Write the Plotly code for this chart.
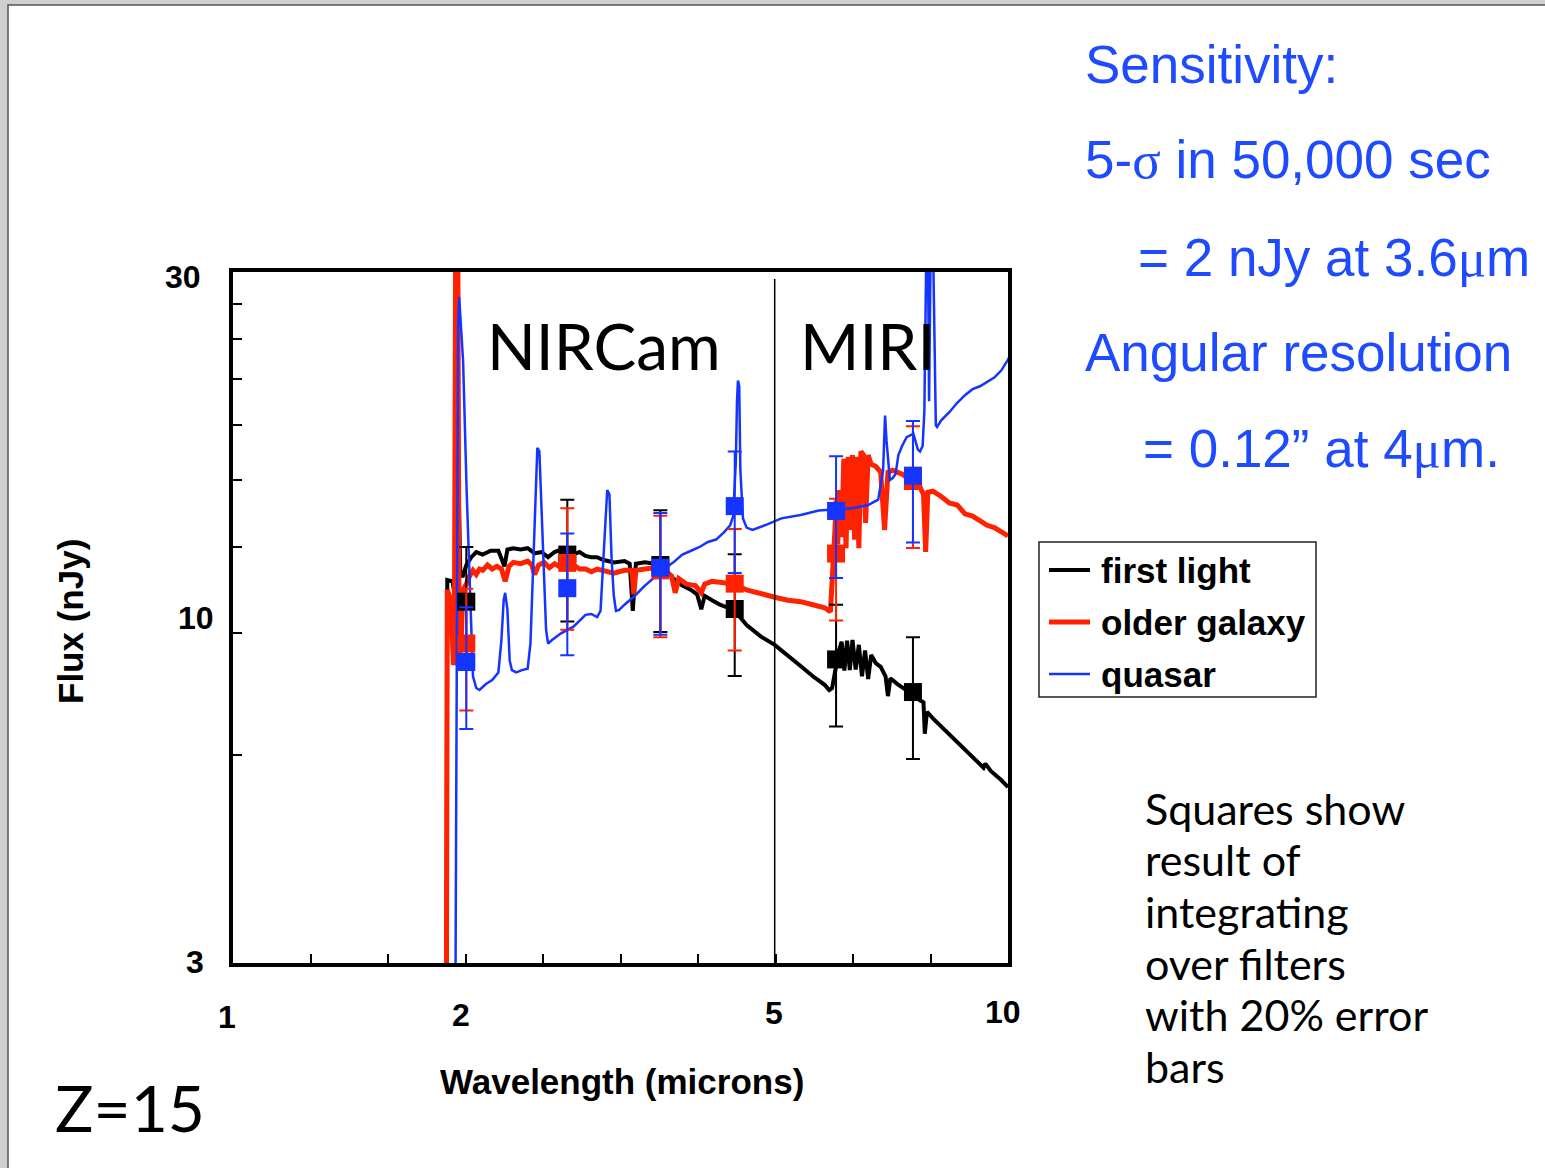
import plotly.graph_objects as go

# ---------------- spectra: wavelength (microns) and flux (nJy) ----------------
first_light_wl = [1.885, 1.89, 1.92, 1.935, 1.945, 1.955, 1.965, 1.98, 2.0, 2.03,
                  2.06, 2.1, 2.15, 2.2, 2.24, 2.26, 2.3, 2.35, 2.4, 2.45,
                  2.5, 2.55, 2.6, 2.65, 2.7, 2.75, 2.8, 2.85, 2.9, 2.95,
                  3.0, 3.1, 3.2, 3.25, 3.28, 3.31, 3.4, 3.5, 3.6, 3.7,
                  3.8, 3.9, 3.97, 4.02, 4.06, 4.15, 4.25, 4.35, 4.44, 4.6,
                  4.8, 5.0, 5.2, 5.4, 5.6, 5.8, 5.88, 5.93, 5.98, 6.05,
                  6.1, 6.15, 6.2, 6.25, 6.3, 6.36, 6.42, 6.48, 6.54, 6.6,
                  6.66, 6.75, 6.85, 6.95, 7.0, 7.05, 7.2, 7.4, 7.55, 7.7,
                  7.78, 7.81, 7.86, 8.0, 8.2, 8.4, 8.6, 8.8, 9.0, 9.2,
                  9.3, 9.35, 9.5, 9.8, 10.0]
first_light_flux = [2.5, 10.75, 10.7, 10.1, 20.0, 14.0, 10.9, 10.9, 11.3, 11.6,
                    11.8, 11.7, 11.85, 11.85, 11.25, 11.9, 11.95, 11.9, 11.95, 11.75,
                    11.8, 11.6, 11.8, 11.9, 11.85, 11.7, 11.8, 11.65, 11.6, 11.6,
                    11.5, 11.4, 11.45, 11.35, 9.7, 11.35, 11.4, 11.35, 11.2, 10.8,
                    10.55, 10.4, 10.25, 9.75, 10.2, 10.05, 9.9, 9.8, 9.7, 9.25,
                    8.9, 8.66, 8.37, 8.07, 7.8, 7.58, 7.45, 7.5, 7.9, 8.5,
                    8.75, 7.95, 8.78, 7.96, 8.8, 7.98, 8.66, 7.8, 8.5, 7.73,
                    8.37, 8.15, 8.05, 7.8, 7.3, 7.75, 7.6, 7.45, 7.33, 7.2,
                    7.15, 6.44, 6.93, 6.78, 6.6, 6.43, 6.27, 6.1, 5.96, 5.83,
                    5.75, 5.83, 5.69, 5.52, 5.39]

older_wl = [1.885, 1.89, 1.91, 1.925, 1.93, 1.938, 1.95, 1.958, 1.97, 1.98,
            2.0, 2.02, 2.04, 2.06, 2.08, 2.1, 2.13, 2.16, 2.19, 2.22,
            2.245, 2.27, 2.3, 2.35, 2.4, 2.43, 2.45, 2.48, 2.52, 2.56,
            2.6, 2.65, 2.7, 2.75, 2.8, 2.85, 2.9, 2.95, 3.0, 3.1,
            3.2, 3.27, 3.29, 3.31, 3.4, 3.5, 3.6, 3.68, 3.72, 3.76,
            3.85, 3.95, 4.02, 4.06, 4.15, 4.25, 4.35, 4.44, 4.6, 4.8,
            5.0, 5.2, 5.4, 5.6, 5.8, 5.9, 5.95, 5.98, 6.0, 6.03,
            6.06, 6.1, 6.14, 6.18, 6.22, 6.26, 6.3, 6.34, 6.38, 6.42,
            6.46, 6.51, 6.55, 6.6, 6.66, 6.75, 6.85, 6.93, 7.0, 7.1,
            7.3, 7.5, 7.7, 7.78, 7.83, 7.88, 8.0, 8.2, 8.4, 8.6,
            8.8, 9.0, 9.2, 9.4, 9.6, 9.8, 10.0]
older_flux = [2.5, 10.4, 10.06, 8.1, 8.23, 34.0, 34.0, 8.2, 8.8, 10.4,
              10.6, 10.9, 11.1, 10.95, 11.15, 11.1, 11.3, 11.15, 11.25, 11.15,
              10.7, 11.25, 11.4, 11.35, 11.45, 11.3, 10.95, 11.3, 11.4, 11.2,
              11.35, 11.2, 11.15, 11.3, 11.15, 11.15, 11.05, 11.15, 11.1, 11.0,
              11.1, 11.1, 10.25, 11.1, 11.15, 11.2, 11.1, 10.9, 10.3, 10.8,
              10.6, 10.55, 10.3, 10.6, 10.7, 10.65, 10.6, 10.6, 10.4, 10.25,
              10.15, 10.05, 10.0, 9.9, 9.8, 9.67, 11.1, 12.7, 14.0, 12.1,
              14.5, 12.4, 16.1, 11.95, 16.2, 12.7, 16.3, 12.3, 16.2, 11.95,
              16.5, 16.3, 13.0, 16.3, 15.8, 15.7, 15.4, 12.7, 15.4, 15.5,
              15.3, 15.0, 14.65, 14.3, 11.8, 14.4, 14.45, 14.2, 13.9, 13.8,
              13.4, 13.3, 13.1, 12.9, 12.8, 12.65, 12.45]

quasar_wl = [1.936, 1.944, 1.952, 1.958, 1.965, 1.972, 1.981, 2.002, 2.022, 2.04,
             2.06, 2.08, 2.12, 2.16, 2.2, 2.22, 2.235, 2.245, 2.26, 2.275,
             2.29, 2.32, 2.36, 2.4, 2.42, 2.44, 2.455, 2.47, 2.485, 2.5,
             2.515, 2.535, 2.55, 2.58, 2.65, 2.75, 2.85, 2.9, 2.95, 2.98,
             3.0, 3.02, 3.04, 3.06, 3.08, 3.1, 3.12, 3.15, 3.2, 3.3,
             3.4, 3.5, 3.6, 3.7, 3.8, 3.9, 4.0, 4.1, 4.2, 4.3,
             4.38, 4.42, 4.455, 4.47, 4.483, 4.5, 4.515, 4.55, 4.6, 4.68,
             4.78, 4.9, 5.1, 5.4, 5.7, 6.0, 6.3, 6.6, 6.8, 6.9,
             6.94, 6.97, 7.0, 7.04, 7.1, 7.16, 7.22, 7.3, 7.4, 7.55,
             7.65, 7.7, 7.76, 7.8, 7.85, 7.88, 7.91, 7.95, 8.0, 8.07,
             8.1, 8.2, 8.4, 8.6, 8.8, 9.0, 9.2, 9.4, 9.6, 9.8,
             10.0, 10.2]
quasar_flux = [2.5, 7.2, 24.7, 27.6, 26.0, 24.0, 22.3, 14.5, 10.3, 7.8,
               7.5, 7.45, 7.6, 7.7, 7.9, 8.8, 10.06, 10.3, 9.73, 8.23,
               7.96, 7.9, 7.96, 8.0, 8.7, 11.5, 14.5, 16.7, 16.5, 14.0,
               11.5, 9.1, 8.7, 8.8, 9.0, 9.2, 9.57, 9.6, 9.5, 9.7,
               11.1, 12.7, 14.5, 14.3, 11.5, 10.2, 9.7, 9.73, 9.9, 10.2,
               10.55, 10.85, 11.15, 11.4, 11.7, 11.85, 12.0, 12.2, 12.3, 12.6,
               12.9, 13.3, 16.0, 19.5, 20.9, 20.5, 15.5, 13.2, 12.8, 12.7,
               12.8, 12.95, 13.2, 13.35, 13.55, 13.6, 13.65, 13.8, 14.05, 15.5,
               18.6, 17.1, 16.0, 15.0, 15.1, 15.3, 16.3, 16.8, 17.3, 17.5,
               16.6, 16.5, 16.8, 18.9, 34.0, 34.0, 19.5, 34.0, 34.0, 18.0,
               17.9, 18.3, 18.8, 19.4, 19.9, 20.3, 20.5, 20.8, 21.1, 21.6,
               22.4, 23.5]

# ---------------- band fluxes integrated over the filters ----------------
filter_wl = [2.0, 2.7, 3.56, 4.44, 6.0, 7.54]
first_light_band = [10.0, 11.7, 11.3, 9.76, 8.25, 7.40]
older_band = [8.7, 11.38, 11.1, 10.62, 11.74, 14.95]
quasar_band = [8.18, 10.46, 11.2, 13.75, 13.53, 15.22]
error_percent = 20

series_names = ["first light", "older galaxy", "quasar"]
x_tick_text = ["1", "2", "5", "10"]
y_tick_text = ["30", "10", "3"]

BLACK = "#000000"
RED = "#FF2200"
BLUE = "#1434FF"
TEXT_BLUE = "#1F4BFF"

W, H = 1545, 1168
L, R, T, B = 233, 1008, 272, 963   # plot-area edges in page pixels


def ax(x):
    """page x pixel -> paper coordinate"""
    return (x - L) / (R - L)


def ay(y):
    """page y pixel -> paper coordinate"""
    return (B - y) / (B - T)


fig = go.Figure()

spectra = [
    (first_light_wl, first_light_flux, BLACK, 4),
    (older_wl, older_flux, RED, 5),
    (quasar_wl, quasar_flux, BLUE, 2.5),
]
for (wl, fl, col, lw), name in zip(spectra, series_names):
    fig.add_trace(go.Scatter(x=wl, y=fl, mode="lines", name=name,
                             line=dict(color=col, width=lw),
                             showlegend=False, hoverinfo="skip"))

bands = [(first_light_band, BLACK), (older_band, RED), (quasar_band, BLUE)]
for (vals, col), name in zip(bands, series_names):
    fig.add_trace(go.Scatter(
        x=filter_wl, y=vals, mode="markers", name=name + " (filters)",
        marker=dict(symbol="square", size=18, color=col, line=dict(width=0)),
        error_y=dict(type="percent", value=error_percent, color=col,
                     thickness=2, width=7),
        showlegend=False))

shapes = [
    # slide page on a grey surround
    dict(type="rect", xref="paper", yref="paper", layer="below",
         x0=ax(8), x1=ax(1560), y0=ay(1180), y1=ay(5),
         line=dict(color="#555555", width=1.5), fillcolor="white"),
    # NIRCam / MIRI divider
    dict(type="line", xref="x", yref="paper", x0=5, x1=5, y0=0, y1=0.99,
         line=dict(color=BLACK, width=1.5)),
    # legend frame
    dict(type="rect", xref="paper", yref="paper",
         x0=ax(1039), x1=ax(1316), y0=ay(697), y1=ay(542),
         line=dict(color="#222222", width=1.5), fillcolor="white"),
]
legend_rows = [(570, BLACK, 4), (622, RED, 5), (674, BLUE, 2.5)]
for yy, col, lw in legend_rows:
    shapes.append(dict(type="line", xref="paper", yref="paper",
                       x0=ax(1049), x1=ax(1090), y0=ay(yy), y1=ay(yy),
                       line=dict(color=col, width=lw)))

annotations = []


def text(s, x, y, size, family, color=BLACK, xanchor="left", bold=False, angle=0):
    if bold:
        s = "<b>" + s + "</b>"
    annotations.append(dict(text=s, x=ax(x), y=ay(y), xref="paper", yref="paper",
                            xanchor=xanchor, yanchor="middle", showarrow=False,
                            textangle=angle,
                            font=dict(size=size, family=family, color=color)))


ARIAL = "Liberation Sans, Arial, sans-serif"
SANS = "Lato, Liberation Sans, sans-serif"

# axis tick labels
for s, (x, y) in zip(y_tick_text, [(203, 277), (216, 618), (206, 962)]):
    text(s, x, y, 32, ARIAL, xanchor="right", bold=True)
for s, (x, y) in zip(x_tick_text, [(227, 1017), (461, 1015), (774, 1013), (1003, 1012)]):
    text(s, x, y, 32, ARIAL, xanchor="center", bold=True)

text("Wavelength (microns)", 622, 1081, 35, ARIAL, xanchor="center", bold=True)
text("Flux (nJy)", 70, 622, 35, ARIAL, xanchor="center", bold=True, angle=-90)

# legend entries
for s, (yy, _, _) in zip(series_names, legend_rows):
    text(s, 1099, yy, 35, ARIAL, bold=True)

# instrument labels and redshift
text("NIRCam", 485, 345, 64, SANS)
text("MIRI", 798, 345, 64, SANS)
text("Z=15", 53, 1107, 64, SANS)

# sensitivity notes
sig = "<span style='font-family:Liberation Serif'>σ</span>"
mu = "<span style='font-family:Liberation Serif'>μ</span>"
text("Sensitivity:", 1083, 65, 53, ARIAL, TEXT_BLUE)
text("5-" + sig + " in 50,000 sec", 1083, 160, 53, ARIAL, TEXT_BLUE)
text("= 2 nJy at 3.6" + mu + "m", 1136, 257, 53, ARIAL, TEXT_BLUE)
text("Angular resolution", 1083, 352, 53, ARIAL, TEXT_BLUE)
text("= 0.12\u201d at 4" + mu + "m.", 1141, 448, 53, ARIAL, TEXT_BLUE)

for s, yy in zip(["Squares show", "result of", "integrating", "over filters",
                  "with 20% error", "bars"],
                 [808, 859, 911, 963, 1014, 1066]):
    text(s, 1143, yy, 43, SANS)

axis_common = dict(showgrid=False, zeroline=False, showline=True, linecolor=BLACK,
                   linewidth=4, mirror=True, ticks="inside", ticklen=9,
                   tickwidth=1.5, tickcolor=BLACK, showticklabels=False)

fig.update_layout(
    width=W, height=H,
    margin=dict(l=L, r=W - R, t=T, b=H - B, autoexpand=False),
    paper_bgcolor="#cfcfcf", plot_bgcolor="white",
    showlegend=False,
    xaxis=dict(type="log", range=[0, 1],
               tickvals=[10 ** (k / 10) for k in range(1, 10)], **axis_common),
    yaxis=dict(type="log", range=[0.47712, 1.47712],
               tickvals=[6, 9, 12, 15, 18, 21, 24, 27], **axis_common),
    shapes=shapes,
    annotations=annotations,
)

fig.write_html("out.html")
